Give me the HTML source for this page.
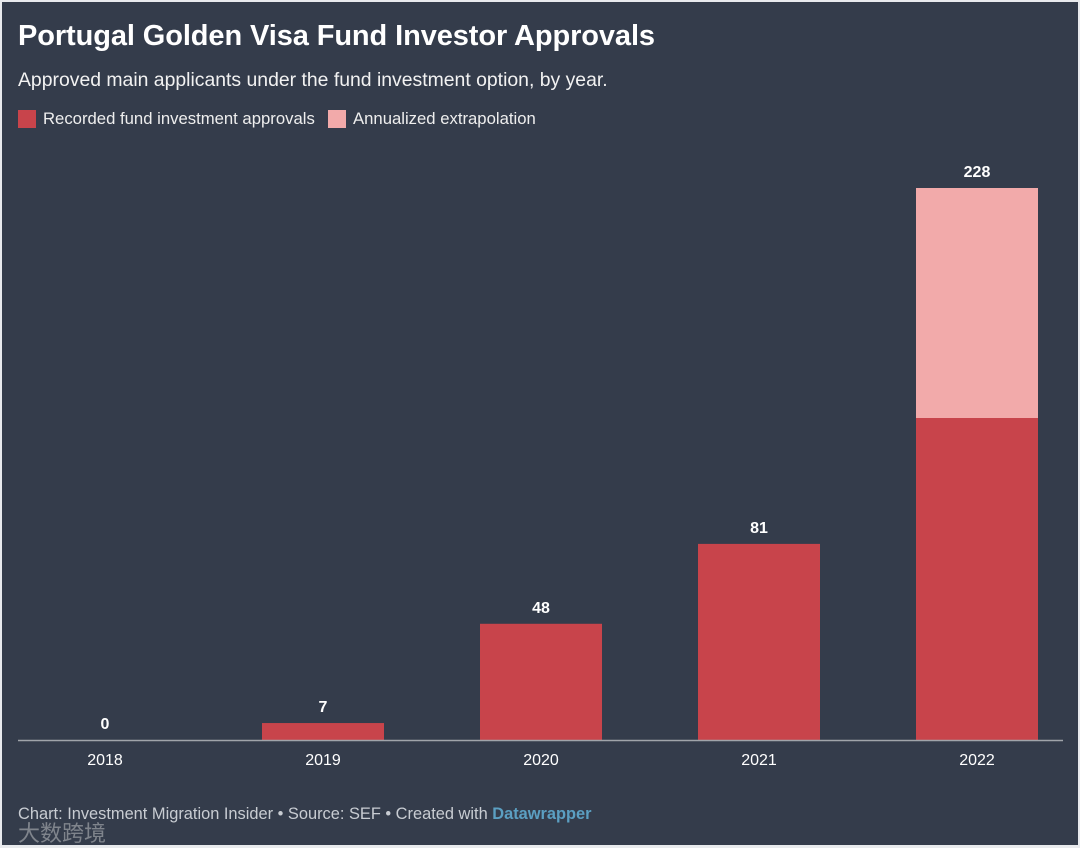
<!DOCTYPE html>
<html><head><meta charset="utf-8"><style>
body{margin:0;width:1080px;height:848px;background:#e8eaed;overflow:hidden;font-family:"Liberation Sans","Noto Sans CJK SC",sans-serif}
#card{position:absolute;left:2px;top:2px;width:1076px;height:843px;background:#343c4b;color:#fff}
h1{position:absolute;left:16px;top:18px;margin:0;font-size:29px;font-weight:bold;letter-spacing:-0.1px}
#sub{position:absolute;left:16px;top:67px;font-size:19.4px;color:#f2f2f2}
.leg{position:absolute;top:107px;font-size:16.7px;color:#eee;display:flex;align-items:center}
.sw{width:18px;height:18px;margin-right:7px}
#foot{position:absolute;left:16px;top:803px;font-size:16.4px;color:#c8ccd2}
#wm{position:absolute;left:16px;top:814px;font-size:22px;color:rgba(220,220,220,0.45)}
svg{position:absolute;left:0;top:0}
</style></head><body>
<div id="card">
<h1>Portugal Golden Visa Fund Investor Approvals</h1>
<div id="sub">Approved main applicants under the fund investment option, by year.</div>
<div class="leg" style="left:16px"><div class="sw" style="background:#c8444b"></div>Recorded fund investment approvals</div>
<div class="leg" style="left:326px"><div class="sw" style="background:#f2aaaa"></div>Annualized extrapolation</div>
<svg id="chart" width="1076" height="843"></svg>
<div id="foot">Chart: Investment Migration Insider • Source: SEF • Created with <b style="color:#5b9fc2">Datawrapper</b></div>
<div id="wm">大数跨境</div>
</div>
<script>
const years=["2018","2019","2020","2021","2022"];
const recorded=[0,7,48,81,133];
const extrapolation=[0,0,0,0,95];
const totals=[0,7,48,81,228];
const ns="http://www.w3.org/2000/svg";
const svg=document.getElementById('chart');
const base=738, top0=186, maxV=228;
const y=v=>base-(v/maxV)*(base-top0);
const x=i=>103+i*218;
const bw=122;
function mk(t,a){const e=document.createElementNS(ns,t);for(const k in a)e.setAttribute(k,a[k]);svg.appendChild(e);return e;}
years.forEach((yr,i)=>{
  if(recorded[i]>0){
    const r=mk('rect',{x:x(i)-bw/2,y:y(recorded[i]),width:bw,height:base-y(recorded[i]),fill:'#c8444b'});
    
    
  }
  if(extrapolation[i]>0){
    const r=mk('rect',{x:x(i)-bw/2,y:y(recorded[i]+extrapolation[i]),width:bw,height:y(recorded[i])-y(recorded[i]+extrapolation[i]),fill:'#f2aaaa'});
    
    
  }
  const v=mk('text',{x:x(i),y:y(totals[i])-11,'text-anchor':'middle','font-size':16,'font-weight':'bold',fill:'#fff','font-family':'Liberation Sans'});
  v.textContent=totals[i];
  
  
  const l=mk('text',{x:x(i),y:763,'text-anchor':'middle','font-size':16,fill:'#fff','font-family':'Liberation Sans'});
  l.textContent=yr;
  
  
});
const ax=mk('line',{x1:16,x2:1061,y1:base+0.5,y2:base+0.5,stroke:'#a0a4aa','stroke-width':1.5});


</script>
</body></html>
